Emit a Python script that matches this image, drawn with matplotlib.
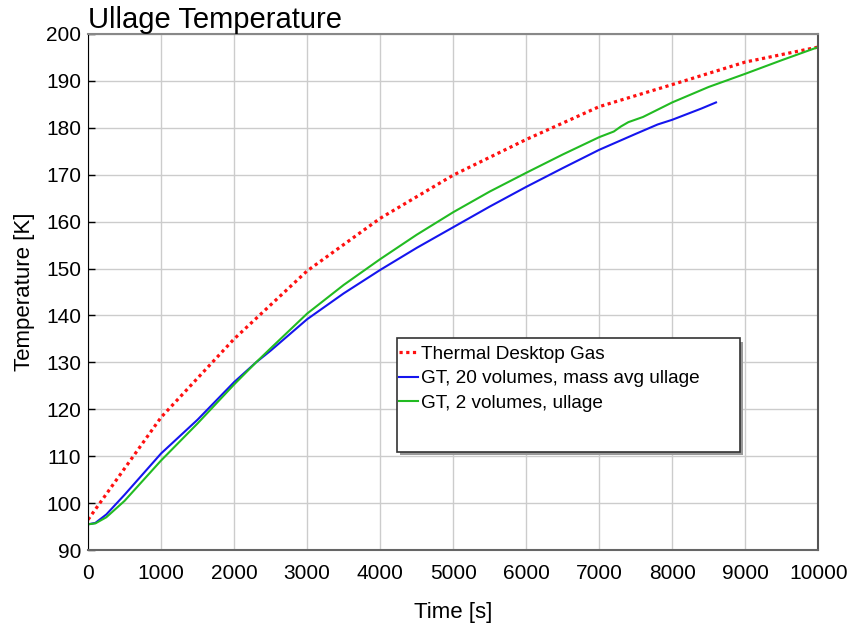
import numpy as np
import matplotlib
matplotlib.use("Agg")
import matplotlib.pyplot as plt
from matplotlib.patches import Rectangle

plt.rcParams['font.family'] = ['Liberation Sans', 'DejaVu Sans']

# Thermal Desktop Gas (dotted red)
td_time = [0, 1000, 2000, 3000, 4000, 5000, 6000, 7000, 8000, 9000, 10000]
td_temp = [96.5, 118.3, 135.0, 149.5, 160.7, 169.9, 177.5, 184.5, 189.2, 194.0, 197.2]

# GT, 20 volumes, mass avg ullage (blue)
gt20_time = [0, 100, 250, 500, 1000, 1500, 2000, 2300, 2500, 3000, 3500, 4000,
             4500, 5000, 5500, 6000, 6500, 7000, 7500, 7800, 8000, 8400, 8600]
gt20_temp = [95.5, 95.8, 97.6, 101.8, 110.6, 117.8, 125.8, 130.0, 132.5, 139.2, 144.7,
             149.7, 154.4, 158.8, 163.2, 167.4, 171.4, 175.3, 178.7, 180.7, 181.7, 184.1, 185.4]

# GT, 2 volumes, ullage (green)
gt2_time = [0, 100, 250, 500, 1000, 1500, 2000, 2300, 2500, 3000, 3500, 4000, 4500,
            5000, 5500, 6000, 6500, 7000, 7200, 7300, 7400, 7600, 8000, 8500, 9000,
            9500, 10000]
gt2_temp = [95.5, 95.7, 97.0, 100.5, 109.1, 117.0, 125.3, 130.0, 133.0, 140.4, 146.5,
            152.0, 157.2, 162.0, 166.4, 170.4, 174.3, 178.0, 179.2, 180.3, 181.2, 182.3,
            185.4, 188.7, 191.5, 194.4, 197.2]

fig = plt.figure(figsize=(8.55, 6.28), dpi=100)
ax = fig.add_axes([0.103, 0.124, 0.854, 0.822])

ax.plot(td_time, td_temp, color='#ff1010', lw=2.3, linestyle=(0, (1, 1.1)),
        label='Thermal Desktop Gas')
ax.plot(gt20_time, gt20_temp, color='#1515ee', lw=1.5,
        label='GT, 20 volumes, mass avg ullage')
ax.plot(gt2_time, gt2_temp, color='#22bb22', lw=1.5,
        label='GT, 2 volumes, ullage')

ax.set_xlim(0, 10000)
ax.set_ylim(90, 200)
ax.set_xticks(np.arange(0, 10001, 1000))
ax.set_yticks(np.arange(90, 201, 10))
ax.grid(True, color='#cccccc', lw=1)
ax.set_axisbelow(True)

ax.tick_params(axis='y', direction='in', length=5, width=1, labelsize=15, pad=5)
ax.tick_params(axis='x', length=0, labelsize=15, pad=10)

ax.spines['left'].set_color('black')
ax.spines['bottom'].set_color('#666666')
ax.spines['bottom'].set_linewidth(1.5)
ax.spines['right'].set_color('#555555')
ax.spines['right'].set_linewidth(1.5)
ax.spines['top'].set_color('#888888')
ax.spines['top'].set_linewidth(1.5)

ax.set_title('Ullage Temperature', loc='left', fontsize=21, pad=3)
ax.set_xlabel('Time [s]', fontsize=16, labelpad=14)
ax.set_ylabel('Temperature [K]', fontsize=16, labelpad=8)

# legend box with shadow
bx, by, bw, bh = 0.423, 0.19, 0.47, 0.22
shadow = Rectangle((bx + 0.004, by - 0.006), bw, bh, transform=ax.transAxes,
                   facecolor='#999999', edgecolor='none', zorder=4)
box = Rectangle((bx, by), bw, bh, transform=ax.transAxes,
                facecolor='white', edgecolor='#333333', lw=1.2, zorder=5)
ax.add_patch(shadow)
ax.add_patch(box)

leg = ax.legend(loc='upper left', bbox_to_anchor=(bx - 0.002, by + bh - 0.006),
                frameon=False, fontsize=13.7, handlelength=1.0, handletextpad=0.15,
                labelspacing=0.38, borderaxespad=0, borderpad=0.2)
leg.set_zorder(6)

fig.savefig('out.png', dpi=100)
